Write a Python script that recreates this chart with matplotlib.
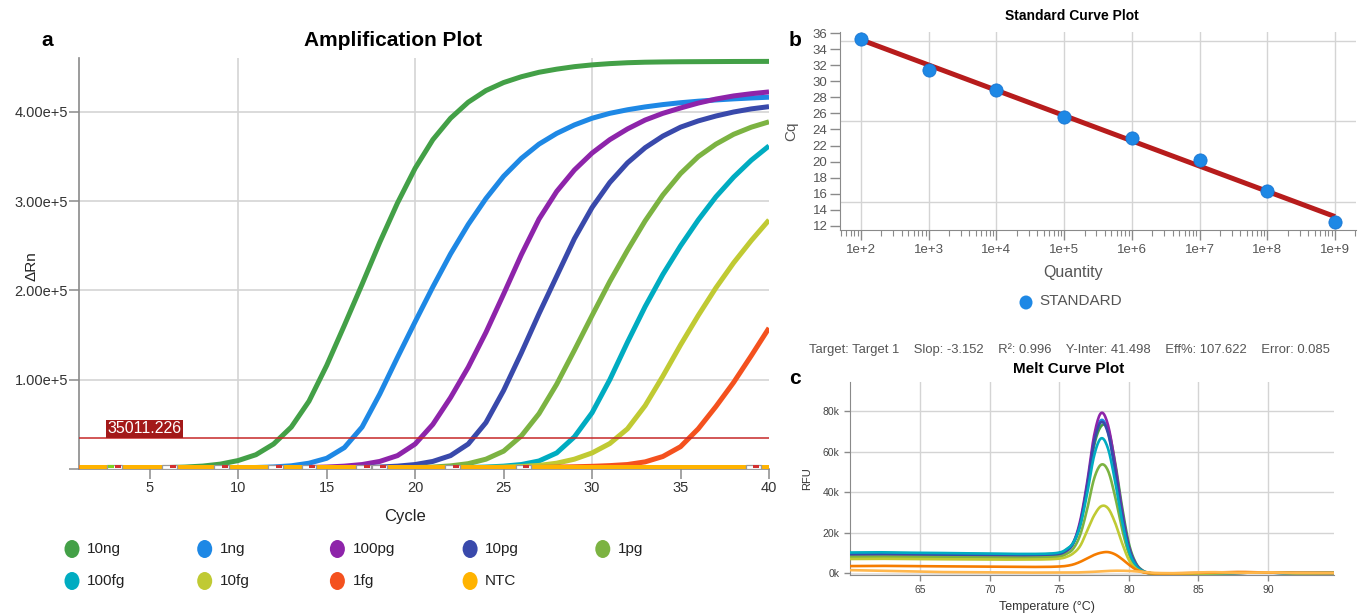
import numpy as np
import matplotlib
matplotlib.use("Agg")
import matplotlib.pyplot as plt
from matplotlib import font_manager
from matplotlib.patches import Rectangle, Ellipse
from matplotlib.ticker import FuncFormatter, LogLocator, NullFormatter

plt.rcParams['font.family'] = ['Liberation Sans', 'DejaVu Sans']

# narrow font for the right-hand panels, if it is there
try:
    font_manager.findfont('Liberation Sans Narrow', fallback_to_default=False)
    NARROW = 'Liberation Sans Narrow'
except Exception:
    NARROW = None

# ---------------- data ----------------
samples = ['10ng', '1ng', '100pg', '10pg', '1pg', '100fg', '10fg', '1fg', 'NTC']
colors = ['#43a047', '#1e88e5', '#8e24aa', '#3949ab', '#7cb342',
          '#00acc1', '#c0ca33', '#f4511e', '#ffb300']

cycles = list(range(1, 41))
amp_10ng = [1500, 1500, 1500, 1500, 1500, 1600, 2200, 3300, 5500, 9500,
            16000, 28000, 47000, 76000, 116000, 161000, 207000, 254000, 298000, 337000,
            369000, 393000, 411000, 424000, 433000, 439500, 444500, 448000, 450800, 452800,
            454200, 455200, 455800, 456100, 456300, 456400, 456500, 456600, 456650, 456700]
amp_1ng = [1500, 1500, 1500, 1500, 1500, 1500, 1500, 1500, 1500, 1500,
           1700, 2300, 3600, 6500, 12000, 24000, 47000, 84000, 125000, 165000,
           204000, 241000, 274000, 303000, 328000, 348000, 364000, 376000, 385500, 393000,
           398500, 402500, 405700, 408300, 410400, 412100, 413500, 414700, 415700, 416600]
amp_100pg = [1500, 1500, 1500, 1500, 1500, 1500, 1500, 1500, 1500, 1500,
             1500, 1500, 1500, 1700, 2200, 3200, 5000, 8500, 15000, 28000,
             50000, 80000, 114000, 153000, 196000, 240000, 280000, 311000, 335000, 354000,
             369000, 381000, 391000, 398500, 404500, 410000, 414500, 418000, 420500, 422500]
amp_10pg = [1500, 1500, 1500, 1500, 1500, 1500, 1500, 1500, 1500, 1500,
            1500, 1500, 1500, 1500, 1500, 1500, 1700, 2200, 3200, 5000,
            8500, 15000, 28000, 52000, 88000, 130000, 174000, 216000, 258000, 293000,
            321000, 343000, 360000, 373000, 383000, 390000, 395500, 400000, 403500, 406000]
amp_1pg = [1500, 1500, 1500, 1500, 1500, 1500, 1500, 1500, 1500, 1500,
           1500, 1500, 1500, 1500, 1500, 1500, 1500, 1500, 1500, 1700,
           2200, 3500, 6000, 11000, 20000, 37000, 62000, 95000, 133000, 172000,
           210000, 245000, 278000, 307000, 331000, 350000, 364000, 375000, 383000, 389000]
amp_100fg = [1500, 1500, 1500, 1500, 1500, 1500, 1500, 1500, 1500, 1500,
             1500, 1500, 1500, 1500, 1500, 1500, 1500, 1500, 1500, 1500,
             1500, 1500, 1700, 2200, 3200, 5000, 9000, 18000, 36000, 63000,
             100000, 142000, 182000, 218000, 250000, 279000, 305000, 327000, 346000, 362000]
amp_10fg = [1500, 1500, 1500, 1500, 1500, 1500, 1500, 1500, 1500, 1500,
            1500, 1500, 1500, 1500, 1500, 1500, 1500, 1500, 1500, 1500,
            1500, 1500, 1500, 1700, 2100, 2800, 4000, 6500, 11000, 18000,
            28500, 45000, 71000, 104000, 139000, 172000, 203000, 231000, 256000, 279000]
amp_1fg = [1500, 1500, 1500, 1500, 1500, 1500, 1500, 1500, 1500, 1500,
           1500, 1500, 1500, 1500, 1500, 1500, 1500, 1500, 1500, 1500,
           1500, 1500, 1500, 1500, 1500, 1600, 1800, 2100, 2500, 3000,
           3800, 5000, 8000, 14000, 25000, 45000, 70000, 97000, 127000, 158000]
amp_ntc = [2500] * 40
amp_curves = [amp_10ng, amp_1ng, amp_100pg, amp_10pg, amp_1pg,
              amp_100fg, amp_10fg, amp_1fg, amp_ntc]

threshold = 35011.226
baseline_marks = [3.0, 6.1, 9.05, 12.1, 14.0, 17.1, 18.0, 22.1, 26.1, 39.1]

# standard curve
std_qty = [1e2, 1e3, 1e4, 1e5, 1e6, 1e7, 1e8, 1e9]
std_cq = [35.3, 31.4, 28.9, 25.6, 23.0, 20.2, 16.3, 12.4]
slope = -3.152
y_inter = 41.498
stats = "Target: Target 1    Slop: -3.152    R\u00b2: 0.996    Y-Inter: 41.498    Eff%: 107.622    Error: 0.085"

# melt curves
temp = [60, 62, 64, 66, 68, 70, 72, 74, 75, 75.5, 76, 76.5, 77, 77.5, 78, 78.5,
        79, 79.5, 80, 80.5, 81, 81.5, 82, 83, 84, 86, 88, 90, 92, 95]
melt_10ng = [9800, 10000, 9800, 9700, 9500, 9300, 9200, 9300, 9800, 11500, 15000, 24000,
             42000, 63000, 72500, 71000, 55000, 33000, 14500, 5000, 1300, 100,
             -400, -500, -400, -200, 200, 300, 0, 100]
melt_1ng = [8500, 8600, 8500, 8400, 8300, 8200, 8100, 8300, 8800, 10600, 14500, 24600,
            43300, 65500, 75500, 69800, 51600, 29600, 12500, 4300, 1000, 0,
            -400, -500, -400, -200, 200, 300, 0, 100]
melt_100pg = [9200, 9300, 9100, 9000, 8800, 8600, 8500, 8700, 9000, 11000, 15000, 26000,
              45000, 68000, 79000, 73000, 54000, 31000, 13000, 4500, 1000, 0,
              -400, -500, -400, -200, 200, 300, 0, 100]
melt_10pg = [9300, 9400, 9300, 9100, 9000, 8900, 8800, 9000, 9300, 11100, 14900, 24700,
             43000, 64700, 74500, 69000, 51000, 29200, 12300, 4200, 1000, 0,
             -400, -500, -400, -200, 200, 300, 0, 100]
melt_1pg = [8000, 8100, 8000, 7900, 7800, 7700, 7600, 7800, 8200, 9500, 12100, 19000,
            31700, 46700, 53500, 50500, 38000, 22000, 9500, 3300, 800, 0,
            -400, -400, -300, -100, 200, 300, 0, 100]
melt_100fg = [10200, 10300, 10100, 10000, 9800, 9700, 9500, 9600, 10200, 11800, 15100, 23600,
              39400, 58000, 66500, 61400, 45500, 26000, 11000, 3800, 900, 0,
              -400, -500, -400, -200, 200, 300, 0, 100]
melt_10fg = [7000, 7100, 7000, 6900, 6800, 6700, 6700, 6800, 7200, 8000, 9800, 13500,
             21000, 28500, 33000, 32000, 25000, 15000, 6500, 2300, 600, 0,
             -300, -300, -300, -100, 200, 300, 0, 100]
melt_1fg = [3500, 3600, 3500, 3400, 3300, 3200, 3100, 3100, 3300, 3600, 4300, 5600,
            7300, 9000, 10100, 10400, 9300, 7000, 4200, 1800, 500, 0,
            -100, -100, 0, 300, 600, 300, 200, 100]
melt_ntc = [1500, 1200, 900, 600, 500, 400, 300, 300, 300, 300, 300, 400,
            500, 700, 900, 1100, 1200, 1200, 1100, 900, 600, 300,
            100, 0, 100, 500, 200, 400, 100, 100]
melt_curves = [melt_10ng, melt_1ng, melt_100pg, melt_10pg, melt_1pg,
               melt_100fg, melt_10fg, melt_1fg, melt_ntc]
melt_colors = ['#43a047', '#1e88e5', '#8e24aa', '#3949ab', '#7cb342',
               '#00acc1', '#c0ca33', '#f57c00', '#ffb74d']


def smooth(xs, ys, n=10):
    # Catmull-Rom through the read points, only to draw them as a smooth line
    p = np.column_stack([xs, ys]).astype(float)
    p = np.vstack([p[0], p, p[-1]])
    out = []
    for i in range(1, len(p) - 2):
        p0, p1, p2, p3 = p[i - 1], p[i], p[i + 1], p[i + 2]
        for t in np.linspace(0, 1, n, endpoint=False):
            t2, t3 = t * t, t * t * t
            out.append(0.5 * (2 * p1 + (-p0 + p2) * t + (2 * p0 - 5 * p1 + 4 * p2 - p3) * t2
                              + (-p0 + 3 * p1 - 3 * p2 + p3) * t3))
    out.append(p[-2])
    out = np.array(out)
    return out[:, 0], out[:, 1]


# ---------------- figure ----------------
W, H = 1364, 615
fig = plt.figure(figsize=(W / 100, H / 100), dpi=100)


def fx(px):
    return px / W


def fy(py):
    return 1 - py / H


def nfam():
    return [NARROW, 'Liberation Sans'] if NARROW else ['Liberation Sans']


grid_c = '#d4d4d4'
axis_c = '#8a8a8a'

# ---- panel a: amplification plot ----
ax = fig.add_axes([fx(79), fy(469), fx(769) - fx(79), fy(58) - fy(469)])
for x in [10, 20, 30]:
    ax.axvline(x, color=grid_c, lw=1.2, zorder=0)
for y in [1e5, 2e5, 3e5, 4e5]:
    ax.axhline(y, color=grid_c, lw=1.2, zorder=0)
for vals, col in zip(amp_curves, colors):
    ax.plot(cycles, vals, color=col, lw=3.6, solid_capstyle='butt',
            solid_joinstyle='round', zorder=3)
ax.axhline(threshold, color='#c62828', lw=1.1, zorder=4)
ax.text(2.62, threshold + 1800, '35011.226', color='white', fontsize=11.5,
        ha='left', va='bottom', zorder=6,
        bbox=dict(facecolor='#a31919', edgecolor='none', pad=1.2))
for i, c in enumerate(baseline_marks):
    ax.add_patch(Rectangle((c - 0.42, 0), 0.84, 5000, facecolor='white',
                           edgecolor='#9a9a9a', lw=0.9, zorder=5))
    if i == 0:
        ax.add_patch(Rectangle((c - 0.36, 800), 0.34, 3400, facecolor='#7ed321',
                               edgecolor='none', zorder=6))
    ax.add_patch(Rectangle((c + 0.02, 800), 0.34, 3400, facecolor='#d32f2f',
                           edgecolor='none', zorder=6))
ax.set_xlim(1, 40)
ax.set_ylim(0, 4.605e5)
ax.set_xticks([5, 10, 15, 20, 25, 30, 35, 40])
ax.set_yticks([0, 1e5, 2e5, 3e5, 4e5])
ax.set_yticklabels(['', '1.00e+5', '2.00e+5', '3.00e+5', '4.00e+5'])
ax.tick_params(length=7, width=1.1, color=axis_c, labelsize=10.5, labelcolor='#333333')
ax.tick_params(axis='x', pad=2)
ax.tick_params(axis='y', pad=1)
for s in ['top', 'right']:
    ax.spines[s].set_visible(False)
for s in ['left', 'bottom']:
    ax.spines[s].set_color(axis_c)
    ax.spines[s].set_linewidth(1.2)

fig.text(fx(47), fy(41), 'a', fontsize=15, fontweight='bold', ha='center', va='center')
fig.text(fx(393), fy(40), 'Amplification Plot', fontsize=15, fontweight='bold',
         ha='center', va='center')
fig.text(fx(31), fy(266), '\u0394Rn', fontsize=11, rotation=90, ha='center', va='center',
         color='#222222')
fig.text(fx(405), fy(516), 'Cycle', fontsize=12, ha='center', va='center', color='#222222')

# overlay in pixel coordinates for the legends
ov = fig.add_axes([0, 0, 1, 1], zorder=10)
ov.set_xlim(0, W)
ov.set_ylim(H, 0)
ov.axis('off')
for i, (name, col) in enumerate(zip(samples, colors)):
    px = 72 + 132.7 * (i % 5)
    py = 549 if i < 5 else 581
    ov.add_patch(Ellipse((px, py), 15, 18, facecolor=col, edgecolor='none'))
    ov.text(px + 15, py, name, fontsize=11, ha='left', va='center', color='#222222')

# ---- panel b: standard curve ----
bx = fig.add_axes([fx(840), fy(230), fx(1356) - fx(840), fy(31.7) - fy(230)])
for q in std_qty:
    bx.axvline(q, color=grid_c, lw=1, zorder=0)
for y in [15, 25, 35]:
    bx.axhline(y, color=grid_c, lw=1, zorder=0)
line_x = [std_qty[0], std_qty[-1]]
line_y = [y_inter + slope * np.log10(q) for q in line_x]
bx.plot(line_x, line_y, color='#b71c1c', lw=3.6, zorder=3, solid_capstyle='butt')
bx.plot(std_qty, std_cq, 'o', color='#1e88e5', markersize=9.5,
        markeredgecolor='#1976d2', markeredgewidth=0.6, zorder=4)
bx.set_xscale('log')
bx.set_xlim(10 ** 1.69, 10 ** 9.31)
bx.set_ylim(11.46, 36.2)
bx.set_yticks(range(12, 37, 2))
bx.xaxis.set_major_locator(LogLocator(base=10, numticks=20))
bx.xaxis.set_minor_locator(LogLocator(base=10, subs=np.arange(2, 10), numticks=20))
bx.xaxis.set_minor_formatter(NullFormatter())
bx.xaxis.set_major_formatter(FuncFormatter(lambda v, p: '1e+%d' % round(np.log10(v))))
bx.tick_params(which='major', length=7, width=1, color=axis_c, labelsize=9.5,
               labelcolor='#555555', pad=3)
bx.tick_params(axis='y', pad=2)
bx.tick_params(which='minor', length=4, width=0.8, color=axis_c)
for lab in bx.get_xticklabels() + bx.get_yticklabels():
    lab.set_family(nfam())
for s in ['top', 'right']:
    bx.spines[s].set_visible(False)
for s in ['left', 'bottom']:
    bx.spines[s].set_color(axis_c)
fig.text(fx(795), fy(40), 'b', fontsize=15, fontweight='bold', ha='center', va='center')
fig.text(fx(1072), fy(16), 'Standard Curve Plot', fontsize=10, fontweight='bold',
         ha='center', va='center')
fig.text(fx(791), fy(131), 'Cq', fontsize=11, rotation=90, ha='center', va='center',
         color='#555555', family=nfam())
fig.text(fx(1073), fy(273), 'Quantity', fontsize=11.5, ha='center', va='center',
         color='#555555', family=nfam())
ov.add_patch(Ellipse((1026, 302.5), 13, 14, facecolor='#1e88e5', edgecolor='none'))
ov.text(1039, 301, 'STANDARD', fontsize=11, ha='left', va='center', color='#555555',
        family=nfam())
stat_size = 11.3 if NARROW else 9.4
fig.text(fx(1069), fy(350), stats, fontsize=stat_size, ha='center', va='center',
         color='#555555', family=nfam())

# ---- panel c: melt curve ----
cx = fig.add_axes([fx(850), fy(575), fx(1334) - fx(850), fy(382) - fy(575)])
for x in [65, 70, 75, 80, 85, 90]:
    cx.axvline(x, color=grid_c, lw=1, zorder=0)
for y in [20000, 40000, 60000, 80000]:
    cx.axhline(y, color=grid_c, lw=1, zorder=0)
cx.axhspan(-900, 0, color='#e4e4e4', zorder=0, lw=0)
for vals, col in zip(melt_curves, melt_colors):
    sx, sy = smooth(temp, vals)
    cx.plot(sx, sy, color=col, lw=1.9, zorder=3)
cx.set_xlim(59.94, 94.75)
cx.set_ylim(-900, 94300)
cx.set_xticks([65, 70, 75, 80, 85, 90])
cx.set_yticks([0, 20000, 40000, 60000, 80000])
cx.set_yticklabels(['0k', '20k', '40k', '60k', '80k'])
cx.tick_params(length=4, width=1, color=axis_c, labelsize=7.5, labelcolor='#444444')
for s in ['top', 'right']:
    cx.spines[s].set_visible(False)
for s in ['left', 'bottom']:
    cx.spines[s].set_color(axis_c)
fig.text(fx(795), fy(378), 'c', fontsize=15, fontweight='bold', ha='center', va='center')
fig.text(fx(1069), fy(369), 'Melt Curve Plot', fontsize=11, fontweight='bold',
         ha='center', va='center')
fig.text(fx(807), fy(479), 'RFU', fontsize=8, rotation=90, ha='center', va='center',
         color='#333333')
fig.text(fx(1047), fy(607), 'Temperature (\u00b0C)', fontsize=9, ha='center', va='center',
         color='#333333')

fig.savefig('out.png', dpi=100)
